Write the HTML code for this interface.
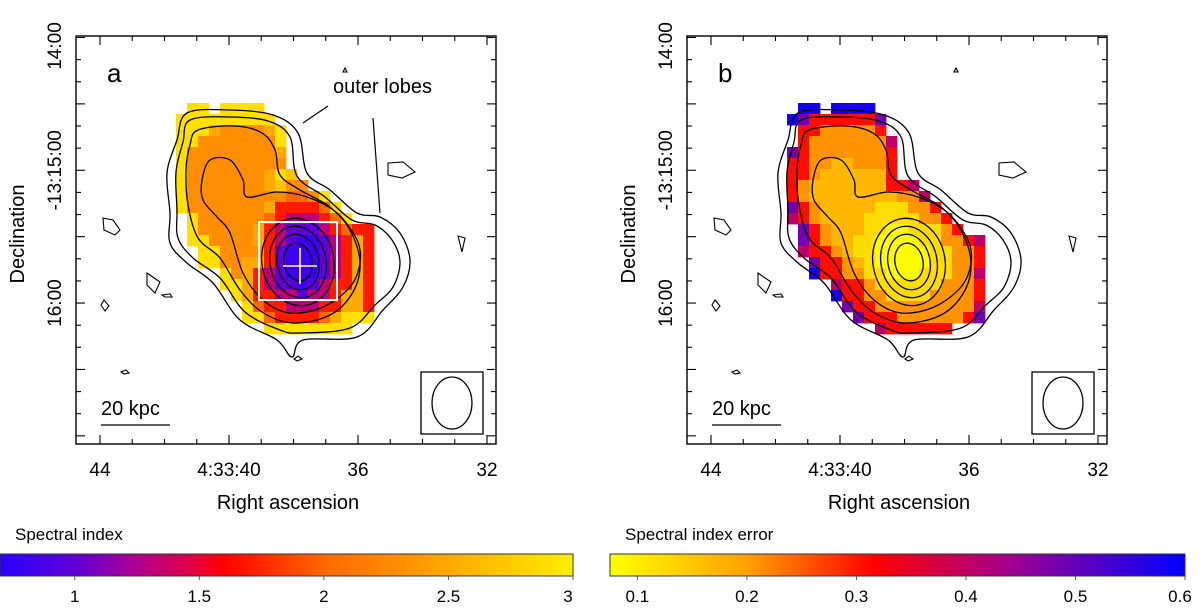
<!DOCTYPE html>
<html><head><meta charset="utf-8"><style>
html,body{margin:0;padding:0;background:#fff;}
svg{display:block;font-family:"Liberation Sans",sans-serif;}
</style></head><body>
<svg id="fig" width="1200" height="609" viewBox="0 0 1200 609" xmlns="http://www.w3.org/2000/svg">
<defs>
<linearGradient id="cbA" x1="0" x2="1" y1="0" y2="0">
<stop offset="0" stop-color="#2a00ff"/><stop offset="0.13" stop-color="#6000d8"/><stop offset="0.22" stop-color="#a0009a"/><stop offset="0.33" stop-color="#e0004a"/><stop offset="0.39" stop-color="#ff0000"/><stop offset="0.57" stop-color="#ff6a00"/><stop offset="0.78" stop-color="#ffa800"/><stop offset="1" stop-color="#ffee00"/>
</linearGradient>
<linearGradient id="cbB" x1="0" x2="1" y1="0" y2="0">
<stop offset="0" stop-color="#ffff00"/><stop offset="0.24" stop-color="#ffa000"/><stop offset="0.46" stop-color="#ff0000"/><stop offset="0.7" stop-color="#a00090"/><stop offset="1" stop-color="#0000ff"/>
</linearGradient>
</defs>
</svg>
<script>
const NS='http://www.w3.org/2000/svg';
const svg=document.getElementById('fig');
// ---- data ----
const gridA=[
".YY.YYYY..........",
"YYYYYYYYY.........",
"YYYoOOOOoY........",
"YYOOOOOOOY........",
"YOOOOOOOOo........",
"YOOOOOOOOO........",
"YOOOOOOOoYy.......",
"YOOOOOOOoyOO......",
"YOOOOOOOOOrrOY....",
"YOOOOOOOoRRRRrY...",
".YOOOOOOrRMMMRrY..",
".YOOOOOoRMPPPMRrRR",
".YYOOOOoRMPBBPMRoR",
"..YYOOOORPBBBPMRoR",
"..YYOOooRPBBBPMRoR",
"....YOoRMPBBBPMRoR",
"....YYoRMPPBPMRRoR",
".....YoRRMMPMMRooR",
"......YrRRMMMRRooR",
"......YYrRRRRroYYY",
"........YYYYYYYY.."];
const codesA=['Y','y','o','O','r','R','M','P','B'];
const valsA=[2.9,2.7,2.5,2.3,2.0,1.7,1.3,1.0,0.8];
const gridB=[
".BB.BBBB..........",
"BPRRRRRRP.........",
".RROOOOOR.........",
".ROOOOOOOM........",
"PROOOOOOOR........",
"RROOooOOOR........",
"RROooooooR........",
"ROoooooooRRM......",
"ROooooooooOOM.....",
"PROoooooyyyOOR....",
"MROooooyyyyyOOR...",
".PROoooyyYYyyyOR..",
".PROooyyYYYYyyOORM",
".MRROoyyYYYYYyyOOR",
"..PRROoyYYYYYyyOOR",
"..BRROOyyYYYyyyOOM",
"....MRROyyyyyyOOOR",
"....BRROOyyyyOOOOR",
".....PRROOOOOOOOOM",
"......PRRROOOOOORP",
"........MRRRRRR..."];
const codesB=['Y','y','o','O','R','M','P','B'];
const valsB=[0.08,0.12,0.17,0.21,0.31,0.42,0.5,0.58];
const cbTicksA=[1,1.5,2,2.5,3];
const cbTicksB=[0.1,0.2,0.3,0.4,0.5,0.6];
const raLabels=['44','4:33:40','36','32'];
const raVals=[44,40,36,32];
const decLabels=['14:00','-13:15:00','16:00'];
// ---- colormaps ----
const stopsA=[[0.7,[42,0,255]],[1.0,[96,0,216]],[1.2,[160,0,154]],[1.45,[224,0,74]],[1.6,[255,0,0]],[2.0,[255,106,0]],[2.5,[255,168,0]],[3.0,[255,238,0]]];
const stopsB=[[0.075,[255,255,0]],[0.2,[255,160,0]],[0.32,[255,0,0]],[0.46,[160,0,144]],[0.6,[0,0,255]]];
function cmap(st,v){if(v<=st[0][0])return 'rgb('+st[0][1]+')';for(let i=1;i<st.length;i++){if(v<=st[i][0]){const t=(v-st[i-1][0])/(st[i][0]-st[i-1][0]);const a=st[i-1][1],b=st[i][1];return 'rgb('+a.map((x,k)=>Math.round(x+(b[k]-x)*t)).join(',')+')';}}return 'rgb('+st[st.length-1][1]+')';}
function el(tag,attrs,parent){const e=document.createElementNS(NS,tag);for(const k in attrs)e.setAttribute(k,attrs[k]);(parent||svg).appendChild(e);return e;}
function txt(s,attrs,parent){const e=el('text',attrs,parent);e.textContent=s;return e;}
const raX=ra=>229+(40-ra)*32.25;
const decY=i=>37.5+i*22.13;
function smooth(pts){let d='';const n=pts.length;for(let i=0;i<n;i++){const p0=pts[(i-1+n)%n],p1=pts[i],p2=pts[(i+1)%n],p3=pts[(i+2)%n];if(i===0)d+='M'+p1[0]+','+p1[1];const c1=[p1[0]+(p2[0]-p0[0])/6,p1[1]+(p2[1]-p0[1])/6],c2=[p2[0]-(p3[0]-p1[0])/6,p2[1]-(p3[1]-p1[1])/6];d+='C'+c1[0].toFixed(1)+','+c1[1].toFixed(1)+' '+c2[0].toFixed(1)+','+c2[1].toFixed(1)+' '+p2[0]+','+p2[1];}return d+'Z';}
const outer=[[187,113],[230,110],[273,115],[298,133],[307,173],[330,190],[357,213],[380,217],[400,233],[410,260],[403,287],[383,310],[357,337],[303,340],[292,357],[277,340],[240,320],[213,283],[187,263],[170,243],[170,213],[167,173],[177,140]];
const second=[[190,120],[230,117],[268,121],[290,137],[297,176],[325,197],[352,220],[375,225],[392,240],[400,262],[393,287],[375,305],[350,328],[300,333],[280,330],[245,312],[220,278],[193,258],[178,238],[177,210],[176,172],[183,142]];
const third=[[198,130],[235,126],[262,133],[275,150],[280,175],[300,190],[330,207],[350,230],[360,262],[353,292],[330,315],[293,323],[262,312],[240,290],[220,258],[198,238],[188,205],[186,170],[190,145]];
const peanut=[[210,160],[230,160],[243,180],[247,197],[277,192],[307,197],[337,213],[357,240],[360,263],[350,287],[323,307],[290,313],[263,300],[243,273],[230,233],[217,217],[203,200],[202,180]];
function panel(off,grid,codes,vals,stops,name,letter){
  const g=el('g',{transform:'translate('+off+',0)'});
  
  
  const img=el('g',{},g);
  
  
  for(let r=0;r<grid.length;r++)for(let c=0;c<grid[r].length;c++){const ch=grid[r][c];const k=codes.indexOf(ch);if(k<0)continue;
    const rc=el('rect',{x:176+11*c,y:103+11*r,width:11.4,height:11.4,fill:cmap(stops,vals[k])},img);
    
    }
  const cg=el('g',{fill:'none',stroke:'#000','stroke-width':1.3},g);
  
  
  el('path',{d:smooth(outer)},cg);
  el('path',{d:smooth(second)},cg);
  el('path',{d:smooth(third)},cg);
  el('path',{d:smooth(peanut)},cg);
  [[36,44],[28,36],[21,28],[14,19]].forEach(e=>el('ellipse',{cx:298,cy:262,rx:e[0],ry:e[1],transform:'rotate(-12 298 262)'},cg));
  [[[103,218],[113,220],[120,230],[115,235],[104,230]],[[147,273],[160,282],[155,293],[147,285]],[[388,163],[403,162],[415,172],[402,178],[388,175]],[[458,236],[465,238],[462,252]],[[104,300],[109,306],[105,311],[101,305]],[[162,295],[170,294],[172,297],[165,297]],[[121,372],[126,370],[129,373],[124,374]],[[294,359],[298,356],[302,359],[297,361]],[[343,72],[345,68],[347,72]]].forEach(p=>el('path',{d:'M'+p.map(q=>q.join(',')).join('L')+'Z','stroke-width':1.1},cg));
  const fr=el('rect',{x:76,y:36,width:420,height:408,fill:'none',stroke:'#000','stroke-width':1.4},g);
  
  
  const tk=el('g',{stroke:'#000','stroke-width':1.1},g);
  for(let s=45;s>=31;s-=1){const x=raX(s);if(x<77||x>495)continue;const L=(s%4===0)?9:5;el('line',{x1:x,y1:444,x2:x,y2:444-L},tk);el('line',{x1:x,y1:36,x2:x,y2:36+L},tk);}
  for(let i=0;i<19;i++){const y=decY(i);if(y<37||y>443)continue;const L=(i%3===0)?9:5;el('line',{x1:76,y1:y,x2:76+L,y2:y},tk);el('line',{x1:496,y1:y,x2:496-L,y2:y},tk);}
  raVals.forEach((v,i)=>{const t=txt(raLabels[i],{x:raX(v),y:476,'font-size':19,'text-anchor':'middle'},g);});
  [[46,0],[decY(6),1],[decY(12),2]].forEach(d=>{const t=txt(decLabels[d[1]],{x:0,y:0,'font-size':19,'text-anchor':'middle',transform:'translate(61,'+d[0]+') rotate(-90)'},g);});
  const xt=txt('Right ascension',{x:288,y:509,'font-size':20,'text-anchor':'middle'},g);
  
  const yt=txt('Declination',{x:0,y:0,'font-size':20,'text-anchor':'middle',transform:'translate(24,234) rotate(-90)'},g);
  
  const lt=txt(letter,{x:107,y:82,'font-size':26},g);
  
  const sb=el('line',{x1:101,y1:425,x2:170,y2:425,stroke:'#000','stroke-width':1.3},g);
  
  const st=txt('20 kpc',{x:101,y:415,'font-size':20},g);
  
  const bb=el('rect',{x:421,y:372,width:62,height:62,fill:'none',stroke:'#000','stroke-width':1.3},g);
  
  const be=el('ellipse',{cx:452,cy:403,rx:20,ry:26,fill:'none',stroke:'#000','stroke-width':1.3},g);
  
  return g;
}
const gA=panel(0,gridA,codesA,valsA,stopsA,'panel-a','a');
const gB=panel(611,gridB,codesB,valsB,stopsB,'panel-b','b');
const box=el('rect',{x:259,y:222,width:78,height:78,fill:'none',stroke:'#fff','stroke-width':2},gA);

const cr=el('path',{d:'M283,266H317M300,248V284',stroke:'#fff','stroke-width':1.6},gA);

const ol=txt('outer lobes',{x:333,y:93,'font-size':20},gA);

const pl=el('path',{d:'M303,123L328,106M373,118L380,213',stroke:'#000','stroke-width':1.2},gA);

function colorbar(x0,w,vmin,vmax,ticks,grad,title,name){
  const g=el('g',{});
  
  
  const sx=v=>x0+(v-vmin)/(vmax-vmin)*w;
  el('rect',{x:x0,y:554,width:w,height:22,fill:'url(#'+grad+')',stroke:'#333','stroke-width':1},g);
  const t=txt(title,{x:x0+15,y:540,'font-size':17},g);
  
  ticks.forEach(v=>{const x=sx(v);el('line',{x1:x,y1:576,x2:x,y2:580,stroke:'#555'},g);
    const lb=txt(String(v),{x:Math.min(x,x0+w-5),y:602,'font-size':17,'text-anchor':'middle'},g);
    });
}
colorbar(0,573,0.7,3.0,cbTicksA,'cbA','Spectral index','colorbar-spectral-index');
colorbar(610,575,0.075,0.6,cbTicksB,'cbB','Spectral index error','colorbar-spectral-index-error');
</script>
</body></html>
